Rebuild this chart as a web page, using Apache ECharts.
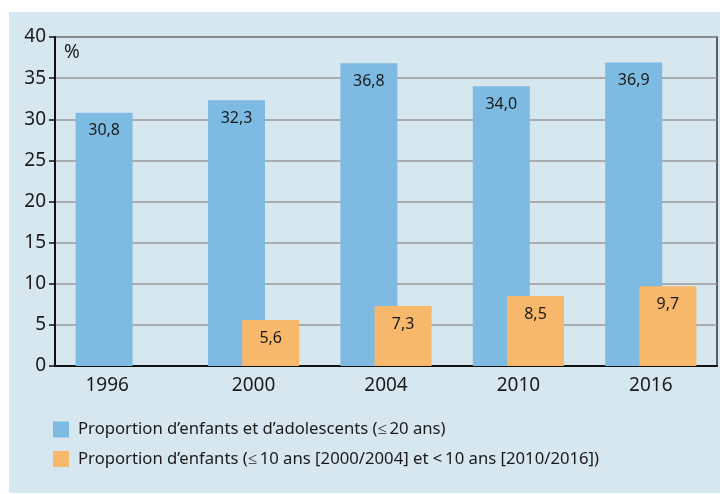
<!DOCTYPE html>
<html><head><meta charset="utf-8">
<script src="https://cdn.jsdelivr.net/npm/echarts@6/dist/echarts.min.js"></script>
<style>html,body{margin:0;padding:0;background:#fff}#c{width:720px;height:494px}</style>
</head><body><div id="c"></div>
<script>
const categories = ['1996','2000','2004','2010','2016'];
const seriesAdol = [30.8, 32.3, 36.8, 34.0, 36.9];
const seriesEnf = [null, 5.6, 7.3, 8.5, 9.7];
const nameAdol = 'Proportion d\u2019enfants et d\u2019adolescents (\u2264\u200920 ans)';
const nameEnf = 'Proportion d\u2019enfants (\u2264\u200910 ans [2000/2004] et <\u200910 ans [2010/2016])';
const FONT = 'Noto Sans';
const chart = echarts.init(document.getElementById('c'), null, {renderer:'canvas'});
const fmt = p => p.value == null ? '' : p.value.toFixed(1).replace('.', ',');
chart.setOption({
  animation:false,
  textStyle:{fontFamily:FONT},
  graphic:[
    {type:'rect', z:-10, shape:{x:9,y:12,width:711,height:481}, style:{fill:'#d7e7ef'}},
    {type:'text', left:64, top:43, style:{text:'%', font:'19px "Noto Sans"', fill:'#1a1a1a'}}
  ],
  grid:{left:55, top:37, right:3, bottom:128, show:true, borderColor:'#333', borderWidth:1.5, backgroundColor:'transparent'},
  legend:{orient:'vertical', left:48, top:416, itemWidth:16, itemHeight:16, itemGap:12.5, icon:'rect',
    textStyle:{fontSize:16.7, color:'#1a1a1a', fontFamily:FONT, padding:[0,0,0,4]},
    data:[nameAdol, nameEnf]},
  xAxis:{type:'category', data:categories,
    axisLine:{lineStyle:{color:'#111', width:2}}, axisTick:{show:false},
    axisLabel:{fontSize:19, color:'#1a1a1a', margin:10,
      formatter:(v,i)=> i===0 ? '{a|'+v+'}' : v,
      rich:{a:{fontSize:19, color:'#1a1a1a', padding:[0,28,0,0], fontFamily:FONT}}}},
  yAxis:{type:'value', min:0, max:40, interval:5,
    axisLine:{show:true, lineStyle:{color:'#111', width:2}},
    axisTick:{show:true, length:6, lineStyle:{color:'#111', width:1.5}},
    axisLabel:{fontSize:19, color:'#1a1a1a', margin:9},
    splitLine:{lineStyle:{color:'#9a9a9a', width:1.5}}},
  series:[
    {name:nameAdol, type:'bar', data:seriesAdol, barWidth:57, barGap:'-40%',
     itemStyle:{color:'#7dbbe2'},
     label:{show:true, position:'insideTop', distance:10, fontSize:16, color:'#1a1a1a', formatter:fmt}},
    {name:nameEnf, type:'bar', data:seriesEnf, barWidth:57,
     itemStyle:{color:'#f7b86b'},
     label:{show:true, position:'insideTop', distance:10, fontSize:16, color:'#1a1a1a', formatter:fmt}}
  ]
});
</script></body></html>
